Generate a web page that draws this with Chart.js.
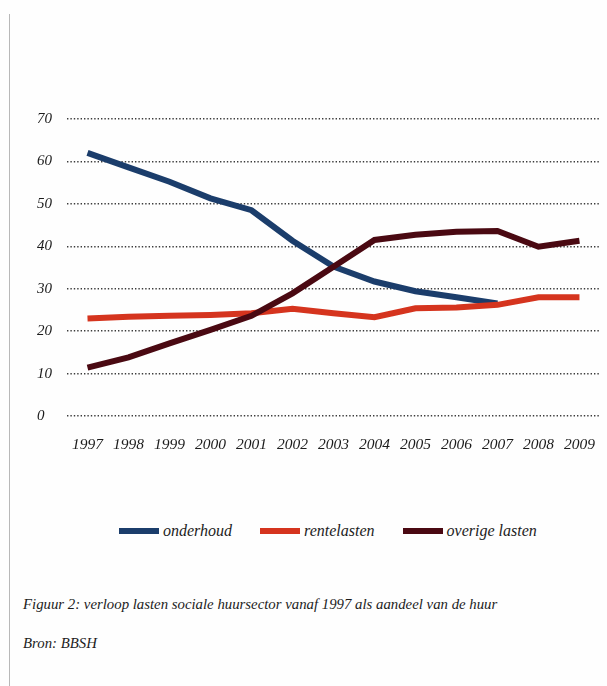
<!DOCTYPE html>
<html>
<head>
<meta charset="utf-8">
<script src="https://cdn.jsdelivr.net/npm/chart.js@4.4.0/dist/chart.umd.min.js"></script>
<style>
  html, body { margin: 0; padding: 0; background: #fefefe; overflow: hidden; }
  body { width: 607px; height: 686px; position: relative; font-family: "Liberation Serif", serif; font-style: italic; color: #1c1c1c; }
  .page-edge { position: absolute; left: 9px; top: 14px; bottom: 0; width: 1px; background: #b8b8b8; }
  .chart-box { position: absolute; left: 0; top: 0; width: 615px; height: 470px; }
  #legend { position: absolute; left: 119px; top: 522px; display: flex; align-items: center; gap: 28px; font-size: 16px; }
  #legend .item { display: flex; align-items: center; gap: 4px; }
  #legend .swatch { width: 40px; height: 6px; }
  .caption { position: absolute; left: 23px; font-size: 14.8px; white-space: nowrap; }
</style>
</head>
<body>
<div class="page-edge"></div>
<div class="chart-box"><canvas id="lastenChart" width="615" height="470"></canvas></div>
<div id="legend"></div>
<div class="caption" style="top: 596px;">Figuur 2: verloop lasten sociale huursector vanaf 1997 als aandeel van de huur</div>
<div class="caption" style="top: 635px;">Bron: BBSH</div>

<script>
// jaren op de x-as
const jaren = ['1997', '1998', '1999', '2000', '2001', '2002', '2003', '2004', '2005', '2006', '2007', '2008', '2009'];

// aandeel van de huur (%)
const onderhoud = [62, 58.6, 55.2, 51.3, 48.5, 41.3, 35.2, 31.7, 29.4, 28.0, 26.5, null, null];
const rentelasten = [23.0, 23.4, 23.6, 23.8, 24.2, 25.3, 24.2, 23.3, 25.4, 25.6, 26.2, 28.0, 28.0];
const overigeLasten = [11.4, 13.8, 17.1, 20.3, 23.6, 28.9, 35.2, 41.5, 42.7, 43.4, 43.6, 39.9, 41.3];

const reeksNamen = ['onderhoud', 'rentelasten', 'overige lasten'];
const reeksKleuren = ['#1b3d6b', '#d5341e', '#4a0912'];

const yTicks = [0, 10, 20, 30, 40, 50, 60, 70];

const tekstFont = { family: 'Liberation Serif', style: 'italic', size: 15.5 };

const reeksen = [onderhoud, rentelasten, overigeLasten];

// volgorde: overige lasten bovenop, dan rente, onderhoud onderaan
const datasets = reeksen.map((data, i) => ({
    label: reeksNamen[i],
    data: data,
    borderColor: reeksKleuren[i],
    backgroundColor: reeksKleuren[i],
    borderWidth: 6,
    pointRadius: 0,
    tension: 0,
    order: 3 - i,
    spanGaps: false
}));

new Chart(document.getElementById('lastenChart'), {
    type: 'line',
    data: { labels: jaren, datasets: datasets },
    options: {
        responsive: false,
        animation: false,
        layout: { padding: { top: 119, left: 37, right: 1, bottom: 0 } },
        plugins: {
            legend: { display: false },
            tooltip: { enabled: false }
        },
        scales: {
            x: {
                offset: true,
                grid: { display: false, drawTicks: false },
                border: { display: false },
                ticks: { color: '#1c1c1c', font: tekstFont, padding: 20, maxRotation: 0, autoSkip: false },
                afterFit: (scale) => { scale.height = 54; }
            },
            y: {
                min: 0,
                max: 70,
                afterBuildTicks: (scale) => { scale.ticks = yTicks.map(v => ({ value: v })); },
                grid: { color: '#3c3c3c', lineWidth: 1.4, drawTicks: false },
                border: { display: false, dash: [1.4, 2] },
                ticks: { color: '#1c1c1c', font: { family: 'Liberation Serif', style: 'italic', size: 15 }, crossAlign: 'far', padding: 0 },
                afterFit: (scale) => { scale.width = 30; }
            }
        }
    }
});

// legenda onder de grafiek
const legend = document.getElementById('legend');
reeksNamen.forEach((naam, i) => {
    const item = document.createElement('div');
    item.className = 'item';
    item.innerHTML = `<span class="swatch" style="background:${reeksKleuren[i]}"></span><span>${naam}</span>`;
    legend.appendChild(item);
});
</script>
</body>
</html>
